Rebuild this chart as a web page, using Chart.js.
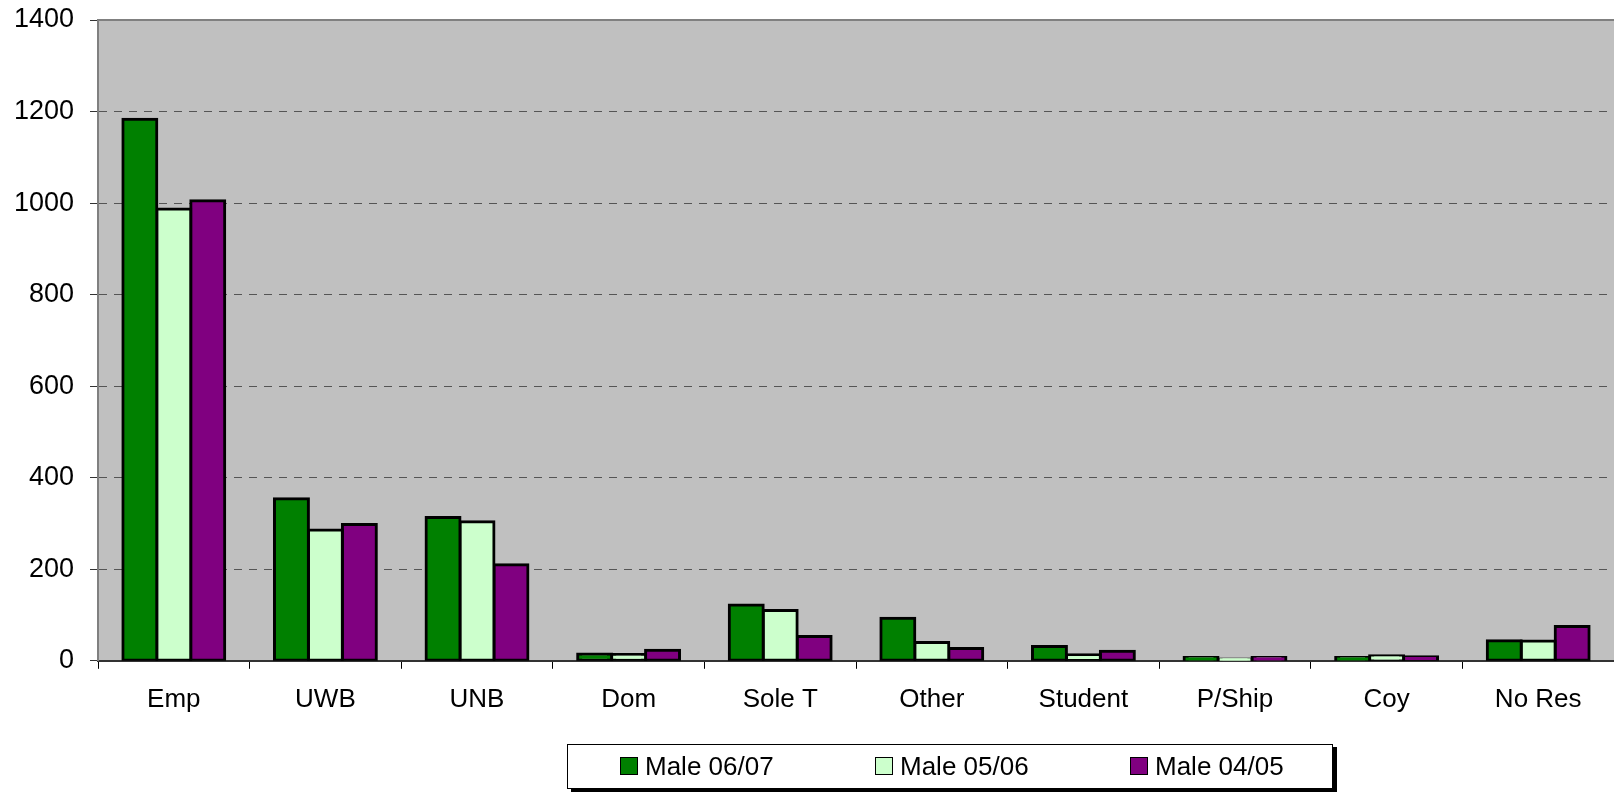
<!DOCTYPE html>
<html>
<head>
<meta charset="utf-8">
<script src="https://cdn.jsdelivr.net/npm/chart.js@4.4.1/dist/chart.umd.min.js"></script>
<style>
    html, body { margin: 0; padding: 0; background: #fff; }
    #wrap { position: relative; width: 1614px; height: 792px; overflow: hidden; }
    #chart { position: absolute; left: 0; top: 0; }
    .legend-box {
        position: absolute; left: 567px; top: 744px; width: 764px; height: 43px;
        border: 1px solid #000; background: #fff; box-shadow: 4px 3px 0 #000;
        font-family: "Liberation Sans", Arial, sans-serif; font-size: 26px; color: #000;
    }
    .legend-item { position: absolute; top: 0; height: 43px; line-height: 43px; white-space: nowrap; }
    .legend-item i {
        display: inline-block; width: 16px; height: 16px; border: 1px solid #000;
        vertical-align: middle; margin-right: 7px; position: relative; top: -2px;
    }
</style>
</head>
<body>
<div id="wrap">
    <canvas id="chart" width="1614" height="792"></canvas>
    <div class="legend-box" id="legend"></div>
</div>
<script>
// categories and series
const categories = ['Emp', 'UWB', 'UNB', 'Dom', 'Sole T', 'Other', 'Student', 'P/Ship', 'Coy', 'No Res'];
const male0607 = [1183, 354, 313, 15, 122, 93, 31, 7, 7, 44];
const male0506 = [987, 286, 304, 14, 110, 40, 13, 4, 11, 43];
const male0405 = [1005, 298, 210, 23, 53, 27, 21, 7, 9, 75];
const seriesNames = ['Male 06/07', 'Male 05/06', 'Male 04/05'];
const seriesColors = ['#008000', '#CCFFCC', '#800080'];
const yTicks = [0, 200, 400, 600, 800, 1000, 1200, 1400];

const FONT = '"Liberation Sans", Arial, sans-serif';

// plot background + gray top border like the old Excel chart
const plotArea = {
    id: 'plotArea',
    beforeDraw(chart) {
        const { ctx, chartArea: a } = chart;
        ctx.save();
        ctx.fillStyle = '#C0C0C0';
        ctx.fillRect(a.left, a.top, a.right - a.left, a.bottom - a.top);
        ctx.strokeStyle = '#808080';
        ctx.lineWidth = 2;
        ctx.beginPath();
        ctx.moveTo(a.left, a.top);
        ctx.lineTo(a.right, a.top);
        ctx.stroke();
        ctx.restore();
    }
};

const datasets = [male0607, male0506, male0405].map((data, i) => ({
    label: seriesNames[i],
    data: data,
    backgroundColor: seriesColors[i],
    borderColor: '#000',
    borderWidth: 3,
    borderSkipped: false,
    inflateAmount: 1.5,
    categoryPercentage: 0.672,
    barPercentage: 1
}));

new Chart(document.getElementById('chart'), {
    type: 'bar',
    data: { labels: categories, datasets: datasets },
    options: {
        responsive: false,
        animation: false,
        events: [],
        layout: { padding: { left: 14, top: 20, right: 0, bottom: 62 } },
        plugins: { legend: { display: false }, tooltip: { enabled: false } },
        scales: {
            x: {
                afterFit(scale) { scale.paddingLeft = 0; scale.paddingRight = 0; },
                grid: { drawOnChartArea: false, drawTicks: true, tickLength: 8, tickColor: '#000', offset: true },
                border: { color: '#333', width: 2 },
                ticks: { color: '#000', font: { family: FONT, size: 26 }, padding: 15, maxRotation: 0, autoSkip: false }
            },
            y: {
                min: 0,
                max: 1400,
                afterBuildTicks(axis) { axis.ticks = yTicks.map(v => ({ value: v })); },
                afterFit(scale) { scale.width = 84; scale.paddingTop = 0; scale.paddingBottom = 0; },
                grid: {
                    color: ctx => (ctx.tick && (ctx.tick.value === 0 || ctx.tick.value === 1400)) ? 'rgba(0,0,0,0)' : '#555',
                    lineWidth: 1,
                    tickLength: 8,
                    tickColor: '#333',
                    tickBorderDash: []
                },
                border: { color: '#808080', width: 2, dash: [8, 7] },
                ticks: { color: '#000', font: { family: FONT, size: 27 }, padding: 16, callback: v => String(v) }
            }
        }
    },
    plugins: [plotArea]
});

// legend (Excel style box with shadow)
const legendEl = document.getElementById('legend');
const legendX = [52, 307, 562];
seriesNames.forEach((name, i) => {
    const item = document.createElement('span');
    item.className = 'legend-item';
    item.style.left = legendX[i] + 'px';
    item.innerHTML = `<i style="background:${seriesColors[i]}"></i>${name}`;
    legendEl.appendChild(item);
});
</script>
</body>
</html>
